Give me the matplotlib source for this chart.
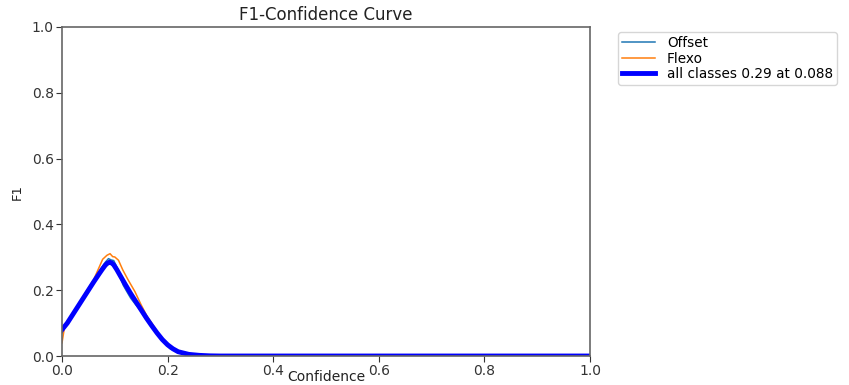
import matplotlib
matplotlib.use('Agg')
import matplotlib.pyplot as plt

# curve samples
offset_x = [0.0, 0.01, 0.02, 0.04, 0.06, 0.075, 0.082, 0.088, 0.093, 0.098, 0.104, 0.11, 0.116,
            0.122, 0.13, 0.14, 0.15, 0.156, 0.162, 0.17, 0.18, 0.19, 0.2, 0.205, 0.21,
            0.22, 0.24, 0.26, 0.3, 1.0]
offset_y = [0.07, 0.10, 0.125, 0.178, 0.228, 0.268, 0.285, 0.296, 0.292, 0.290, 0.27, 0.24, 0.215,
            0.198, 0.176, 0.155, 0.136, 0.128, 0.112, 0.094, 0.07, 0.05, 0.03, 0.022, 0.02,
            0.013, 0.005, 0.002, 0.0, 0.0]

flexo_x = [0.0, 0.005, 0.01, 0.02, 0.04, 0.06, 0.077, 0.085, 0.091, 0.096, 0.100, 0.107, 0.115,
           0.125, 0.138, 0.15, 0.16, 0.175, 0.186, 0.195, 0.205, 0.22, 0.24, 0.26, 0.3, 1.0]
flexo_y = [0.04, 0.09, 0.105, 0.128, 0.18, 0.232, 0.294, 0.306, 0.311, 0.302, 0.301, 0.291, 0.262,
           0.232, 0.196, 0.155, 0.124, 0.088, 0.058, 0.042, 0.028, 0.013, 0.005, 0.002, 0.0, 0.0]

all_x = [0.0, 0.01, 0.02, 0.03, 0.04, 0.05, 0.06, 0.07, 0.076, 0.082, 0.086, 0.09, 0.094, 0.098,
         0.104, 0.11, 0.12, 0.13, 0.14, 0.15, 0.16, 0.17, 0.18, 0.19, 0.20, 0.21, 0.22, 0.24,
         0.26, 0.28, 0.30, 1.0]
all_y = [0.08, 0.10, 0.125, 0.15, 0.175, 0.20, 0.225, 0.249, 0.263, 0.276, 0.282, 0.285, 0.283,
         0.277, 0.262, 0.245, 0.217, 0.19, 0.165, 0.14, 0.115, 0.092, 0.07, 0.05, 0.034, 0.022,
         0.013, 0.005, 0.002, 0.0005, 0.0, 0.0]

names = ['Offset', 'Flexo']
best_f1 = 0.29
best_conf = 0.088

fig = plt.figure(figsize=(8.49, 3.85), dpi=100)
ax = fig.add_axes([62 / 849, 1 - 356 / 385, 528 / 849, 329 / 385])

ax.plot(offset_x, offset_y, color='#1f77b4', linewidth=1.1, label=names[0])
ax.plot(flexo_x, flexo_y, color='#ff7f0e', linewidth=1.1, label=names[1])
ax.plot(all_x, all_y, color='blue', linewidth=3.5, solid_joinstyle='round',
        label=f'all classes {best_f1:.2f} at {best_conf:.3f}')

ax.set_xlim(0, 1)
ax.set_ylim(0, 1)
ax.set_xticks([0.0, 0.2, 0.4, 0.6, 0.8, 1.0])
ax.set_yticks([0.0, 0.2, 0.4, 0.6, 0.8, 1.0])
ax.tick_params(labelsize=10, colors='#333333', length=4, pad=2)
for s in ax.spines.values():
    s.set_color('#666666')
    s.set_linewidth(1.2)

ax.set_xlabel('Confidence', fontsize=10, color='#222222', labelpad=-6)
ax.set_ylabel('F1', fontsize=9.5, color='#222222', labelpad=6)
ax.set_title('F1-Confidence Curve', fontsize=12, color='#222222', pad=5)
ax.legend(bbox_to_anchor=(1.04, 1.005), loc='upper left', fontsize=9.8,
          handlelength=2.4, borderpad=0.3, labelspacing=0.1, handletextpad=0.9)

fig.savefig('out.png', dpi=100)
